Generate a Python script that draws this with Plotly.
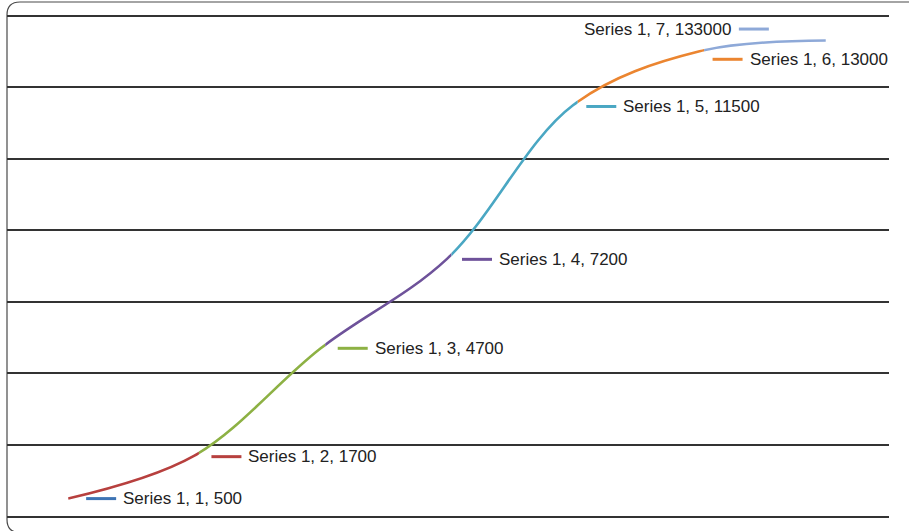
import plotly.graph_objects as go

# ---- data ----
categories = [1, 2, 3, 4, 5, 6, 7]
values = [500, 1700, 4700, 7200, 11500, 13000, 13300]
label_values = ["500", "1700", "4700", "7200", "11500", "13000", "133000"]
series_name = "Series 1"
point_colors = ["#3E74B4", "#B7403E", "#8DB144", "#6E529A", "#4AA7C3", "#EB8530", "#8EA9D8"]

# ---- layout constants ----
W, H = 909, 531
ML, MR, MT, MB = 7, 20, 13, 12
PW, PH = W - ML - MR, H - MT - MB
n = len(categories)
# category band: the category axis spans 7 equal bands starting 2 px left of the frame
BAND = 884 / n
first_px = (5 - ML) + BAND / 2          # pixel position of first category within plot area
x_lo = categories[0] - first_px / BAND
x_hi = x_lo + PW / BAND
y_lo, y_hi = -70, 14070
SPLIT_SHIFT = 4.5 / BAND                # colour changes slightly after each point

# label placement (pixel offsets of the legend key start relative to the point; dy positive = down)
label_dx = [18, 17, 17, 15, 13, 13, -87]
label_dy = [0, 1, 0, 0.5, 1.5, 8, -11.5]
KEY_LEN = 30
TEXT_GAP = 5
FONT = dict(family="Liberation Sans, Arial", size=17, color="#222222")

fig = go.Figure()

layout_axes = {}
# one clipped subplot per line segment so every segment keeps the full smooth curve shape
for i in range(n - 1):
    ax_name = f"xaxis{i + 2}"
    a = categories[i] + (SPLIT_SHIFT if i > 0 else 0)
    b = categories[i + 1] + (SPLIT_SHIFT if i < n - 2 else 0)
    d0 = (a - x_lo) / (x_hi - x_lo)
    d1 = (b - x_lo) / (x_hi - x_lo)
    layout_axes[ax_name] = dict(domain=[d0, d1], range=[a, b], anchor="y", visible=False,
                                showgrid=False, zeroline=False)
    fig.add_trace(go.Scatter(
        x=categories, y=values, xaxis=f"x{i + 2}", yaxis="y",
        mode="lines", line=dict(color=point_colors[i + 1], width=2.6, shape="spline", smoothing=1),
        hoverinfo="skip", showlegend=False,
    ))

# invisible trace on main axes
fig.add_trace(go.Scatter(x=categories, y=values, mode="markers", marker=dict(opacity=0),
                         hoverinfo="skip", showlegend=False))

shapes = []
annotations = []
for i in range(n):
    dx, dy = label_dx[i], label_dy[i]
    shapes.append(dict(
        type="line", xref="x", yref="y", xsizemode="pixel", ysizemode="pixel",
        xanchor=categories[i], yanchor=values[i],
        x0=dx, x1=dx + KEY_LEN, y0=-dy, y1=-dy,
        line=dict(color=point_colors[i], width=3),
    ))
    text = f"{series_name}, {categories[i]}, {label_values[i]}"
    if dx >= 0:
        annotations.append(dict(x=categories[i], y=values[i], xref="x", yref="y", text=text,
                                showarrow=False, xanchor="left", yanchor="middle",
                                xshift=dx + KEY_LEN + TEXT_GAP, yshift=-dy, font=FONT))
    else:
        annotations.append(dict(x=categories[i], y=values[i], xref="x", yref="y", text=text,
                                showarrow=False, xanchor="right", yanchor="middle",
                                xshift=dx - TEXT_GAP - 1, yshift=-dy, font=FONT))

# chart-area frame with rounded corners (paper coordinates)
def px(xp):
    return (xp - ML) / PW

def py(yp):
    return (H - MB - yp) / PH

fx0, fx1, fy0, fy1, r = 7, 913, 2, 532.5, 13
path = (f"M {px(fx0)},{py(fy0 + r)} Q {px(fx0)},{py(fy0)} {px(fx0 + r)},{py(fy0)} "
        f"L {px(fx1)},{py(fy0)} L {px(fx1)},{py(fy1)} L {px(fx0 + r)},{py(fy1)} "
        f"Q {px(fx0)},{py(fy1)} {px(fx0)},{py(fy1 - r)} Z")
shapes.append(dict(type="path", xref="paper", yref="paper", path=path,
                   line=dict(color="#4a4a4a", width=1.2), layer="below"))

fig.update_layout(
    width=W, height=H,
    margin=dict(l=ML, r=MR, t=MT, b=MB),
    paper_bgcolor="white", plot_bgcolor="rgba(0,0,0,0)",
    showlegend=False,
    hovermode=False,
    xaxis=dict(domain=[0, 1], range=[x_lo, x_hi], visible=False, showgrid=False, zeroline=False),
    yaxis=dict(range=[y_lo, y_hi], tick0=0, dtick=2000, showticklabels=False, ticks="",
               showgrid=True, gridcolor="#333333", gridwidth=1.6,
               zeroline=True, zerolinecolor="#333333", zerolinewidth=1.6,
               showline=False, anchor="x"),
    shapes=shapes,
    annotations=annotations,
    **layout_axes,
)

fig.write_html("out.html", config={"displayModeBar": False},
               post_script="document.body.style.margin='0px';")
